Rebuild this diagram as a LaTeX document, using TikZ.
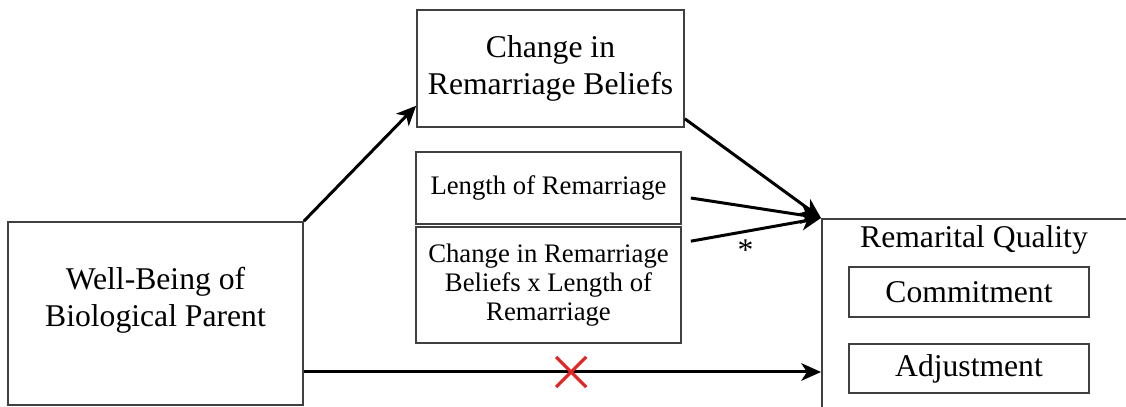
\documentclass[tikz,border=0pt]{standalone}
\usepackage{fontspec}
\setmainfont{Liberation Serif}
\usetikzlibrary{arrows.meta,shapes.misc}

\definecolor{crossred}{RGB}{228,38,38}

\tikzset{
    varbox/.style={draw=black!75, line width=0.45pt, inner sep=0pt, align=center},
    bigtext/.style={font=\fontsize{9}{10.6}\selectfont, align=center},
    smalltext/.style={font=\fontsize{7.6}{8.3}\selectfont, align=center},
    path/.style={line width=0.85pt, -{Stealth[length=5.6pt, width=5pt, inset=1.6pt]}}
}

\begin{document}
\begin{tikzpicture}[
        x=0.01cm,
        y=-0.01cm
    ]
    \useasboundingbox (0,0) rectangle (1126,407);

    % Predictor
    \node[varbox, minimum width=2.95cm, minimum height=1.83cm] (wb) at (155.5,313.5) {};
    \node[bigtext] (wbtext) at ([yshift=0.13cm]wb.center) {Well-Being of\\Biological Parent};

    % Mediator
    \node[varbox, bigtext, minimum width=2.67cm, minimum height=1.17cm] (chg) at (550.5,68.5)
        {Change in\\Remarriage Beliefs};

    % Moderator and interaction
    \node[varbox, smalltext, minimum width=2.65cm, minimum height=0.72cm] (len) at (548.5,188)
        {Length of Remarriage};
    \node[varbox, smalltext, minimum width=2.65cm, minimum height=1.16cm] (inter) at (548.5,285)
        {Change in Remarriage\\Beliefs x Length of\\Remarriage};

    % Outcome
    \node[varbox, anchor=north west, minimum width=4cm, minimum height=3cm] (qual) at (821,218) {};
    \node[bigtext] (qualtext) at (974,240) {Remarital Quality};
    \node[varbox, bigtext, minimum width=2.40cm, minimum height=0.50cm] (com) at (969,292) {Commitment};
    \node[varbox, bigtext, minimum width=2.40cm, minimum height=0.49cm] (adj) at (969,368.5) {Adjustment};

    % Paths
    \draw[path] (wb.north east) -- ([yshift=0.22cm]chg.south west);
    \draw[path] ([yshift=0.09cm]chg.south east) -- (qual.north west);
    \draw[path] ([xshift=0.09cm, yshift=-0.1cm]len.east) -- (qual.north west);
    \draw[path] ([xshift=0.09cm, yshift=-0.15cm]inter.north east) -- (qual.north west)
        node[pos=0.42, below=-1.5pt, font=\fontsize{9}{9}\selectfont] (star) {*};
    \draw[path] ([yshift=-0.035cm]wb.east |- adj.center) -- ([yshift=-0.035cm]qual.west |- adj.center)
        node[pos=0.517, draw=crossred, cross out, line width=0.9pt,
             minimum size=0.27cm, inner sep=0pt] (nosig) {};

\end{tikzpicture}
\end{document}
